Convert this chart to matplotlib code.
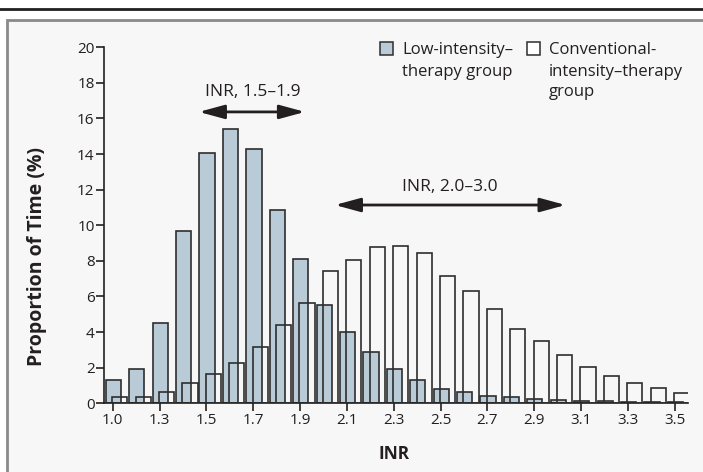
import matplotlib
matplotlib.use('Agg')
import matplotlib.pyplot as plt
import matplotlib.patches as patches
import numpy as np

plt.rcParams['font.family'] = ['Open Sans', 'DejaVu Sans']

# INR categories (bars every 0.1, labels on every other one as printed)
tick_labels = ['1.0', '1.3', '1.5', '1.7', '1.9', '2.1', '2.3',
               '2.5', '2.7', '2.9', '3.1', '3.3', '3.5']

# Proportion of time (%) per INR category
low_intensity = [1.3, 1.9, 4.5, 9.7, 14.05, 15.4, 14.3, 10.85, 8.1, 5.55,
                 4.0, 2.9, 1.9, 1.3, 0.8, 0.65, 0.4, 0.35, 0.22, 0.18,
                 0.12, 0.11, 0.1, 0.07, 0.06]
conventional = [0.37, 0.36, 0.66, 1.12, 1.67, 2.25, 3.15, 4.38, 5.66, 7.42,
                8.03, 8.78, 8.86, 8.43, 7.15, 6.33, 5.32, 4.19, 3.5, 2.73,
                2.06, 1.54, 1.16, 0.86, 0.6]

W, H = 703, 472
BLUE = '#b8cbd7'
EDGE = '#2e2e2e'
INK = '#231f20'
BG = '#f7f7f7'


def px(x, y):
    """Pixel position (from top-left) to figure fraction."""
    return x / W, 1 - y / H


fig = plt.figure(figsize=(W / 100, H / 100), dpi=100)
fig.patch.set_facecolor('white')

# Panel frame and top rule (behind the axes)
frame = patches.Rectangle(px(7, 490), (720 - 7) / W, (490 - 20.5) / H,
                          transform=fig.transFigure, facecolor=BG,
                          edgecolor='#8a8a8a', linewidth=2, zorder=-10)
fig.add_artist(frame)
fig.add_artist(plt.Line2D([0, 1], [1 - 8.5 / H] * 2, color=INK,
                          linewidth=2, transform=fig.transFigure, zorder=-10))

left, right = 104.3, 688
top, bottom = 47.3, 403.3
ax = fig.add_axes([left / W, 1 - bottom / H, (right - left) / W, (bottom - top) / H])
ax.set_facecolor('none')
ax.set_zorder(1)

x = np.arange(len(low_intensity))
ax.bar(x + 0.03, low_intensity, width=0.65, color=BLUE, edgecolor=EDGE,
       linewidth=1.2, zorder=2)
ax.bar(x + 0.3, conventional, width=0.65, facecolor='none', edgecolor=EDGE,
       linewidth=1.2, zorder=3)

ax.set_xlim(-0.36, 24.57)
ax.set_ylim(0, 20)
ax.set_yticks(np.arange(0, 21, 2))
ax.set_xticks(x[::2])
ax.set_xticklabels(tick_labels)

for side in ['top', 'right']:
    ax.spines[side].set_visible(False)
for side in ['left', 'bottom']:
    ax.spines[side].set_linewidth(1.2)
    ax.spines[side].set_color(INK)
ax.tick_params(axis='both', length=5.5, width=1.2, color=INK,
               labelsize=11, labelcolor=INK, pad=1.5)

# Target-range arrows
arrow = dict(arrowstyle='<|-|>,head_length=1.1,head_width=0.3',
             color=INK, lw=2, mutation_scale=14, shrinkA=0, shrinkB=0)
ax.annotate('', xy=(8.21, 16.37), xytext=(3.68, 16.37), arrowprops=arrow)
ax.annotate('', xy=(19.34, 11.14), xytext=(9.49, 11.14), arrowprops=arrow)

fig.text(*px(252.7, 96), 'INR, 1.5\u20131.9', ha='center', va='baseline',
         fontsize=12.5, color=INK)
fig.text(*px(450, 191), 'INR, 2.0\u20133.0', ha='center', va='baseline',
         fontsize=12.5, color=INK)

# Legend
for lx, fc in [(380, BLUE), (527, 'white')]:
    fig.add_artist(patches.Rectangle(px(lx, 55), 13 / W, 13 / H,
                                     transform=fig.transFigure,
                                     facecolor=fc, edgecolor=EDGE,
                                     linewidth=1.1))
for i, line in enumerate(['Low-intensity\u2013', 'therapy group']):
    fig.text(*px(402, 54.5 + 21 * i), line, ha='left', va='baseline',
             fontsize=12, color=INK)
for i, line in enumerate(['Conventional-', 'intensity\u2013therapy', 'group']):
    fig.text(*px(549, 54.5 + 21 * i), line, ha='left', va='baseline',
             fontsize=12, color=INK)

fig.text(*px(37, 256), 'Proportion of Time (%)', rotation=90, ha='center',
         va='center', fontsize=14, fontweight='bold', color=INK)
fig.text(*px(394, 454), 'INR', ha='center', va='center', fontsize=12.5,
         fontweight='bold', color=INK)

fig.savefig('out.png', dpi=100, facecolor=fig.get_facecolor())
